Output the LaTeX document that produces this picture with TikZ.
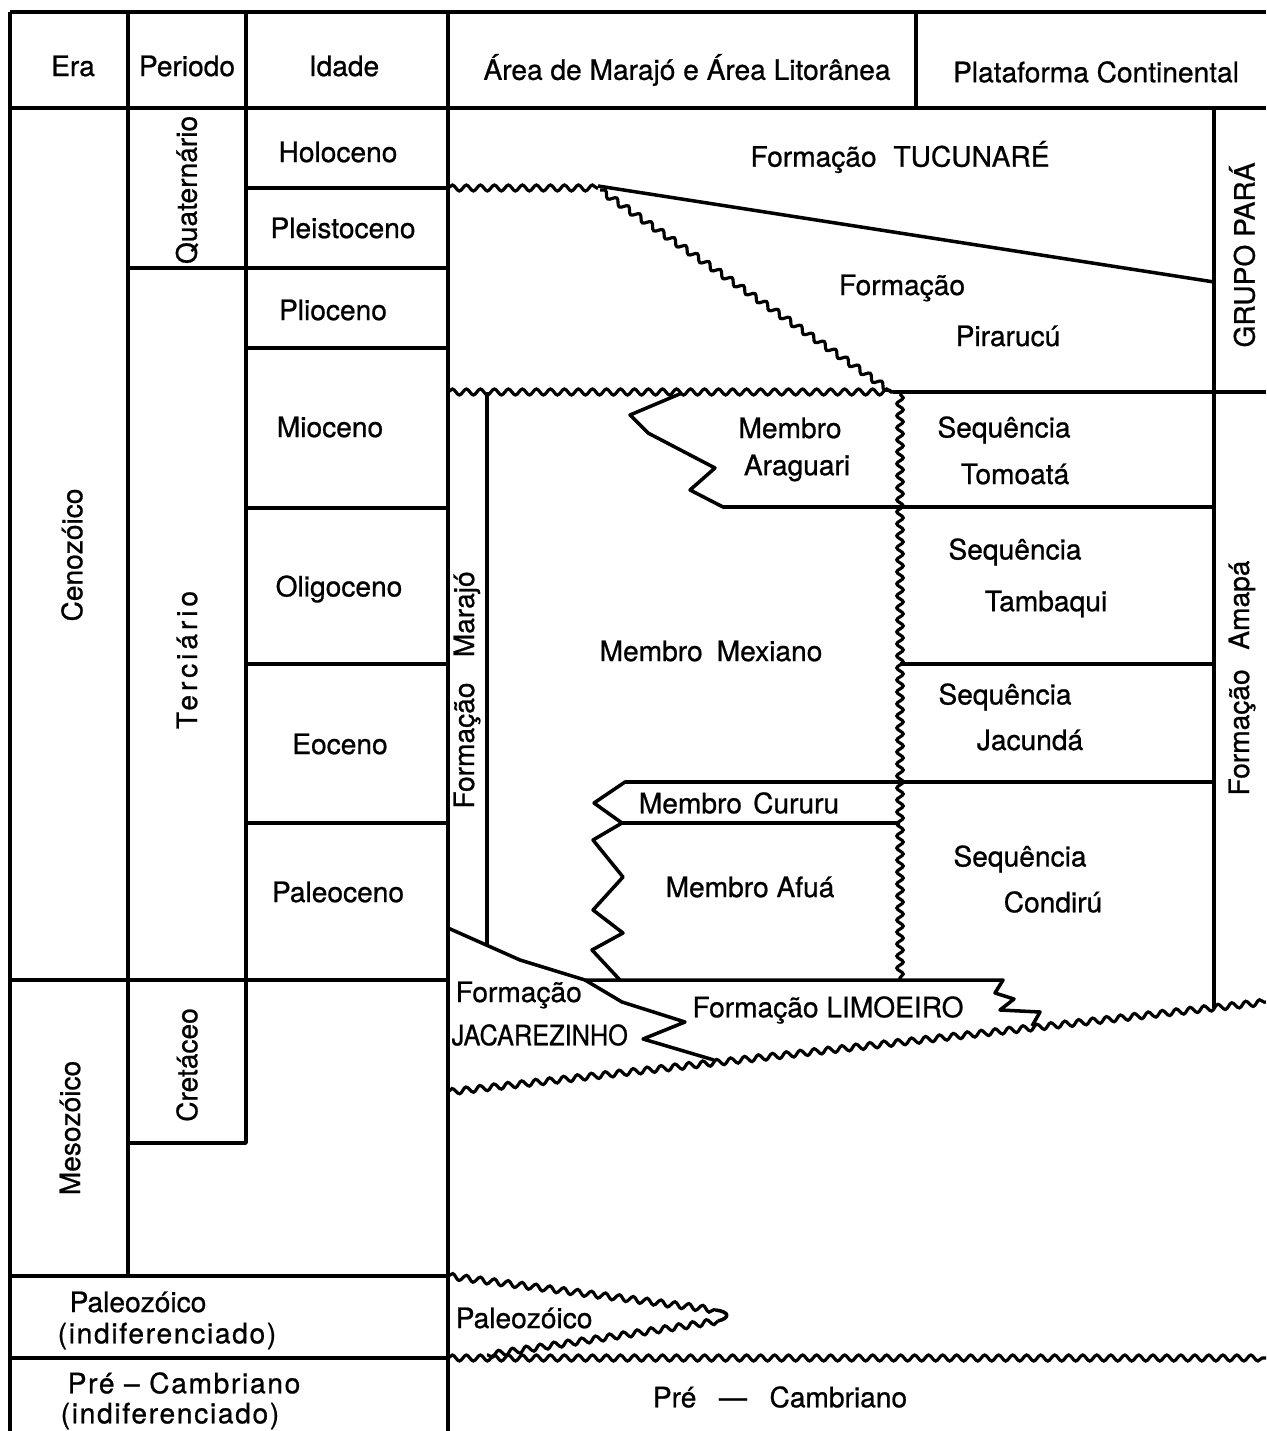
\documentclass[tikz,border=0pt]{standalone}
\usepackage{fontspec}
\setmainfont[FakeBold=0.8]{TeX Gyre Heros}
\newfontfamily\spc[LetterSpace=14,FakeBold=0.8]{TeX Gyre Heros}
\newfontfamily\spcs[LetterSpace=6,FakeBold=0.8]{TeX Gyre Heros}
\usetikzlibrary{decorations.pathmorphing}
\begin{document}
\begin{tikzpicture}[x=0.01cm,y=-0.01cm,
  frame/.style={line width=1.2pt},
  ln/.style={line width=1pt, line join=round},
  wavy/.style={line width=0.9pt, decorate, decoration={snake, segment length=1.4mm, amplitude=0.3mm}},
  wavyv/.style={line width=0.9pt, decorate, decoration={snake, segment length=1.2mm, amplitude=0.32mm}},
  lbl/.style={font=\fontsize{8}{9.6}\selectfont, inner sep=0pt},
  rot/.style={lbl, rotate=90}]
\useasboundingbox (0,0) rectangle (1266,1431);
\fill[white] (0,0) rectangle (1266,1431);
% ---- frame ----
\draw[frame] (10,12) -- (1266,12);
\draw[frame] (10,108) -- (1266,108);
\draw[frame] (10,12) -- (10,1431);
\draw[frame] (448,12) -- (448,1431);
\draw[frame] (128,12) -- (128,1276);
\draw[frame] (246,12) -- (246,980);
\draw[frame] (916,12) -- (916,108);
\draw[ln] (246,188) -- (448,188);
\draw[ln] (128,268) -- (448,268);
\draw[ln] (246,348) -- (448,348);
\draw[ln] (246,508) -- (448,508);
\draw[ln] (246,664) -- (448,664);
\draw[ln] (246,823) -- (448,823);
\draw[frame] (10,980) -- (448,980);
\draw[ln] (246,980) -- (246,1143) -- (128,1143);
\draw[frame] (10,1276) -- (448,1276);
\draw[frame] (10,1358) -- (448,1358);
% ---- header texts ----
\node[lbl] (hEra) at (73,66) {Era};
\node[lbl] (hPer) at (187,66) {Periodo};
\node[lbl] (hIda) at (344,66) {Idade};
\node[lbl] (hAre) at (687,70) {Área de Marajó e Área Litorânea};
\node[lbl] (hPla) at (1096,72) {Plataforma Continental};
% ---- ages ----
\node[lbl] (aHol) at (338,152) {Holoceno};
\node[lbl] (aPle) at (343,228) {Pleistoceno};
\node[lbl] (aPli) at (333,310) {Plioceno};
\node[lbl] (aMio) at (330,427) {Mioceno};
\node[lbl] (aOli) at (339,589) {Oligoceno};
\node[lbl] (aEoc) at (340,744) {Eoceno};
\node[lbl] (aPal) at (338,892) {Paleoceno};
% ---- periods and eras ----
\node[rot] (pQua) at (187,190) {Quaternário};
\node[rot] (pTer) at (187,660) {\spc Terciário};
\node[rot] (pCre) at (187,1065) {Cretáceo};
\node[rot] (eCen) at (72,555) {Cenozóico};
\node[rot] (eMes) at (70,1128) {Mesozóico};
\node[lbl] (ePal1) at (138,1302) {Paleozóico};
\node[lbl] (ePal2) at (167,1336) {\spcs(indiferenciado)};
\node[lbl] (ePre1) at (184,1383) {\spcs Pré – Cambriano};
\node[lbl] (ePre2) at (170,1416) {\spcs(indiferenciado)};
% ---- right part lines ----
\draw[ln] (1214,108) -- (1214,1008);
\draw[wavy] (448,188) -- (598,188);
\draw[ln] (598,186) -- (1214,282);
\draw[wavy] (600,190) -- (892,392);
\draw[wavy] (448,392) -- (893,392);
\draw[ln] (893,392) -- (1266,392);
\draw[wavyv] (900,394) -- (900,979);
\draw[ln] (487,392) -- (487,944);
\draw[ln] (682,393) -- (630,415) -- (648,433) -- (715,468) -- (690,490) -- (723,507) -- (1214,507);
\draw[ln] (900,664) -- (1214,664);
\draw[ln] (1214,782) -- (625,782) -- (594,803) -- (622,823) -- (900,823);
\draw[ln] (622,823) -- (593,840) -- (623,877) -- (593,910) -- (623,933) -- (592,950) -- (620,980);
\draw[ln] (448,928) -- (520,960) -- (585,980) -- (1003,980) -- (995,993) -- (1014,999) -- (1000,1010) -- (1040,1012) -- (1032,1026);
\draw[ln] (585,980) -- (622,1002) -- (685,1022) -- (643,1039) -- (714,1060);
\draw[wavy] (448,1092) -- (1266,1002);
\draw[wavy] (448,1276) -- (716,1310);
\draw[ln] (716,1310) .. controls (730,1312) and (730,1318) .. (718,1321);
\draw[wavy] (718,1321) -- (487,1355);
\draw[wavy] (448,1358) -- (1266,1358);
% ---- right part texts ----
\node[lbl] (fTuc) at (900,157) {Formação\hspace{0.6em}TUCUNARÉ};
\node[lbl] (fPir1) at (902,288) {Formação};
\node[lbl] (fPir2) at (1008,336) {Pirarucú};
\node[rot] (gPar) at (1242,255) {GRUPO PARÁ};
\node[rot] (fAma) at (1242,678) {Formação\hspace{0.7em}Amapá};
\node[rot] (fMar) at (467,690) {Formação\hspace{0.9em}Marajó};
\node[lbl] (mAra1) at (790,428) {Membro};
\node[lbl] (mAra2) at (797,468) {Araguari};
\node[lbl] (mMex) at (711,651) {Membro\hspace{0.5em}Mexiano};
\node[lbl] (mCur) at (739,803) {Membro\hspace{0.4em}Cururu};
\node[lbl] (mAfu) at (750,887) {Membro Afuá};
\node[lbl] (sTom1) at (1004,430) {Sequência};
\node[lbl] (sTom2) at (1015,474) {Tomoatá};
\node[lbl] (sTam1) at (1015,552) {Sequência};
\node[lbl] (sTam2) at (1046,604) {Tambaqui};
\node[lbl] (sJac1) at (1005,697) {Sequência};
\node[lbl] (sJac2) at (1030,740) {Jacundá};
\node[lbl] (sCon1) at (1020,859) {Sequência};
\node[lbl] (sCon2) at (1053,902) {Condirú};
\node[lbl, anchor=west] (fJac1) at (455,995) {Formação};
\node[lbl, anchor=west, xscale=0.9] (fJac2) at (451,1035) {JACAREZINHO};
\node[lbl] (fLim) at (828,1010) {Formação LIMOEIRO};
\node[lbl, anchor=west] (rPal) at (455,1318) {Paleozóico};
\node[lbl] (rPre) at (780,1397) {Pré\hspace{0.8em}—\hspace{0.8em}Cambriano};
\end{tikzpicture}
\end{document}
